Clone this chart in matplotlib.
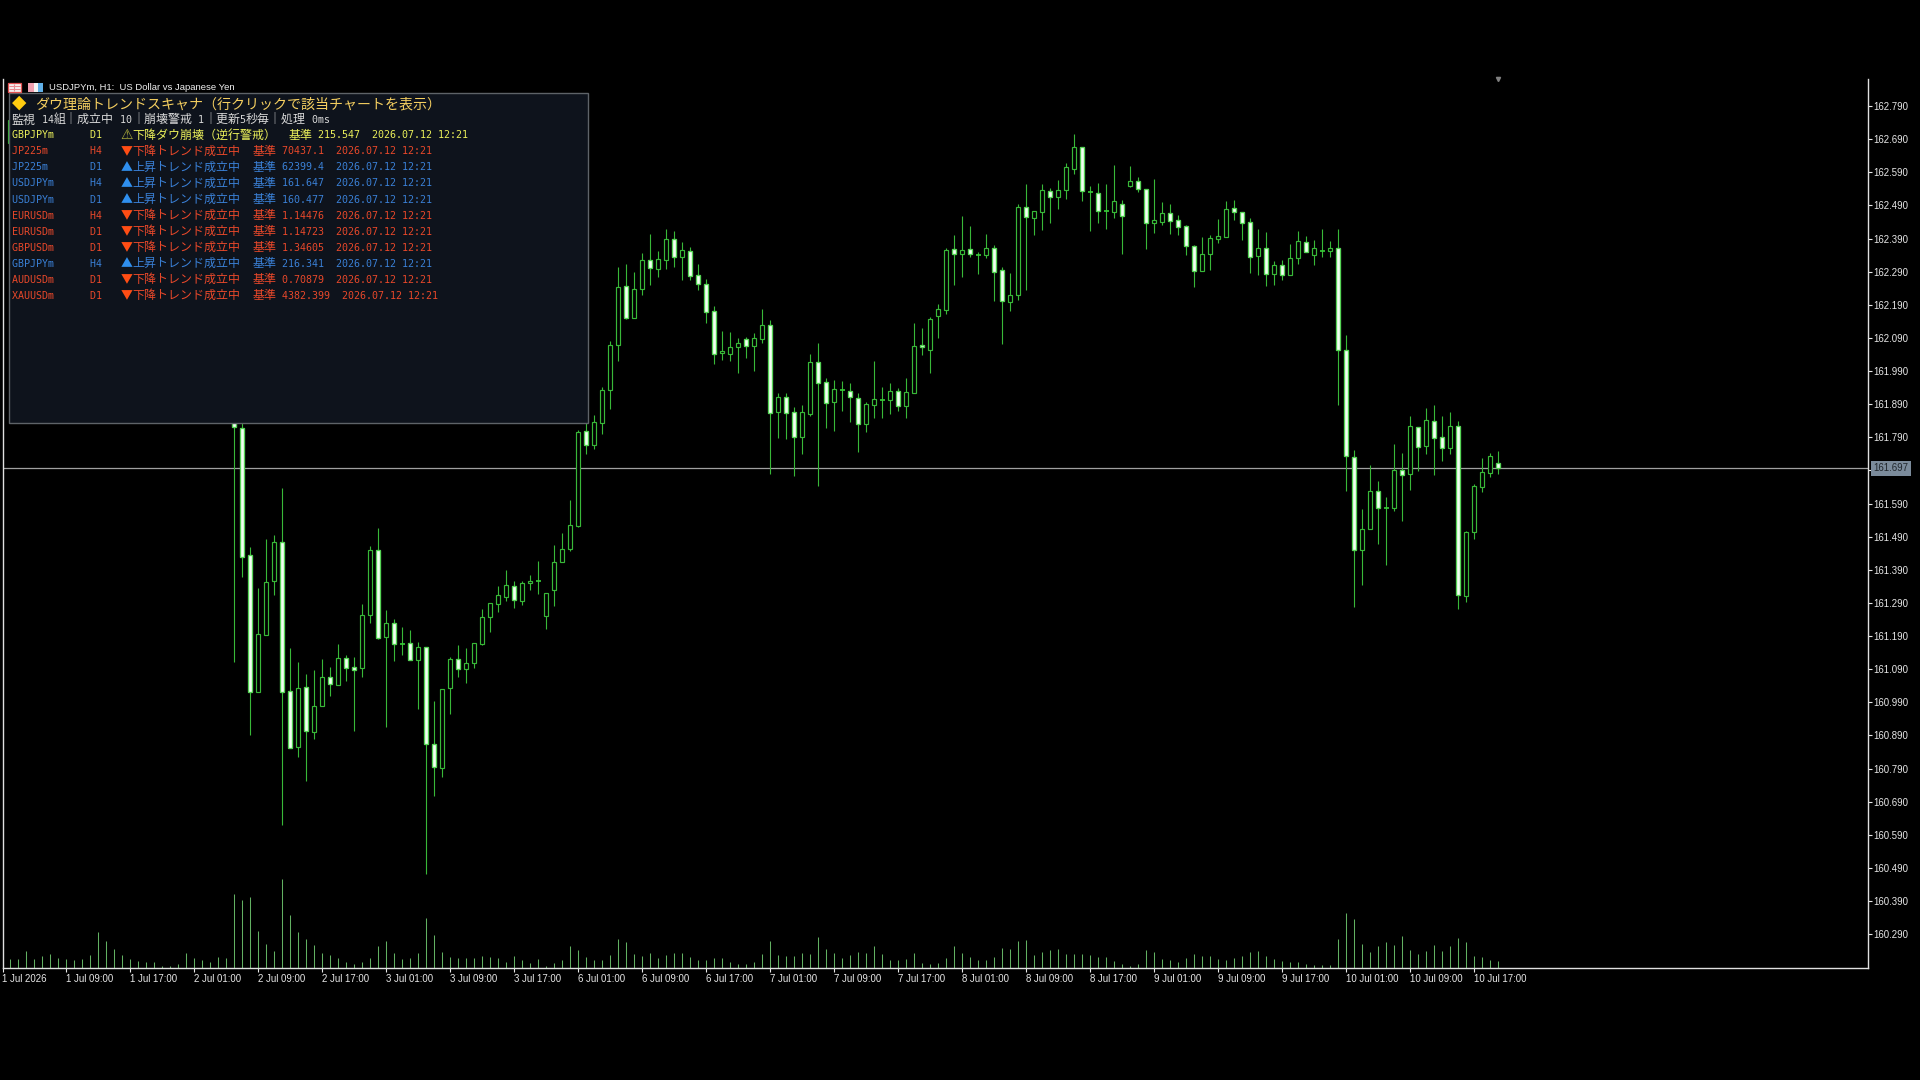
from itertools import groupby
import matplotlib
matplotlib.use('Agg')
import matplotlib.pyplot as plt
from matplotlib.patches import Rectangle
import numpy as np

# bars 1-27 sit behind the scanner panel, only bar 0 peeks out at the left
candle_index = [0] + list(range(28, 187))
opens = [162.678,
    161.843,161.817,161.434,161.020,161.192,161.355,161.473,161.024,160.854,161.036,
    160.899,160.980,161.066,161.041,161.123,161.096,161.095,161.253,161.449,161.186,
    161.229,161.167,161.169,161.119,161.157,160.863,160.793,161.032,161.120,161.089,
    161.108,161.167,161.246,161.288,161.309,161.340,161.297,161.350,161.357,161.249,
    161.328,161.412,161.454,161.523,161.808,161.768,161.834,161.934,162.070,162.248,
    162.151,162.239,162.324,162.299,162.326,162.390,162.335,162.351,162.279,162.254,
    162.170,162.043,162.042,162.063,162.086,162.066,162.088,162.128,161.867,161.913,
    161.865,161.792,161.861,162.016,161.956,161.897,161.933,161.929,161.910,161.831,
    161.888,161.904,161.903,161.929,161.885,161.925,162.070,162.054,162.157,162.175,
    162.358,162.343,162.358,162.340,162.339,162.361,162.294,162.197,162.218,162.484,
    162.453,162.471,162.533,162.514,162.535,162.600,162.666,162.530,162.527,162.474,
    162.471,162.493,162.550,162.563,162.539,162.438,162.441,162.466,162.445,162.427,
    162.367,162.293,162.342,162.390,162.396,162.481,162.469,162.439,162.336,162.361,
    162.284,162.309,162.281,162.330,162.379,162.339,162.351,162.352,162.360,162.053,
    161.730,161.451,161.514,161.627,161.575,161.575,161.690,161.680,161.820,161.765,
    161.838,161.790,161.759,161.823,161.312,161.505,161.641,161.683,161.712]
highs = [162.760,
    161.863,161.843,161.458,161.335,161.482,161.496,161.636,161.154,161.111,161.075,
    161.088,161.120,161.096,161.166,161.132,161.127,161.286,161.462,161.516,161.268,
    161.241,161.217,161.208,161.172,161.157,160.994,161.030,161.126,161.163,161.154,
    161.169,161.271,161.289,161.341,161.389,161.356,161.356,161.374,161.416,161.320,
    161.464,161.501,161.600,161.811,161.833,161.858,161.941,162.082,162.303,162.312,
    162.288,162.345,162.405,162.351,162.420,162.414,162.378,162.363,162.312,162.267,
    162.185,162.111,162.107,162.089,162.092,162.104,162.176,162.143,161.923,161.923,
    161.880,161.886,162.040,162.076,161.968,161.962,161.959,161.953,161.923,161.895,
    162.019,161.941,161.953,161.938,161.968,162.134,162.119,162.152,162.191,162.360,
    162.400,162.457,162.427,162.349,162.403,162.370,162.303,162.285,162.493,162.554,
    162.472,162.554,162.542,162.566,162.617,162.706,162.666,162.548,162.557,162.554,
    162.611,162.506,162.608,162.575,162.539,162.569,162.500,162.493,162.460,162.430,
    162.370,162.394,162.400,162.448,162.503,162.506,162.469,162.451,162.418,162.409,
    162.321,162.324,162.373,162.412,162.397,162.385,162.418,162.382,162.419,162.098,
    161.751,161.573,161.706,161.657,161.609,161.769,161.742,161.853,161.820,161.878,
    161.887,161.853,161.866,161.838,161.506,161.648,161.727,161.742,161.748]
lows = [162.660,
    161.113,161.367,160.890,161.020,161.192,161.314,160.620,160.851,160.824,160.751,
    160.880,160.980,161.010,161.041,161.055,160.902,161.065,161.228,161.181,160.914,
    161.115,161.133,161.119,160.971,160.473,160.706,160.765,160.956,161.065,161.049,
    161.092,161.164,161.201,161.263,161.297,161.276,161.285,161.330,161.318,161.212,
    161.282,161.412,161.448,161.520,161.741,161.756,161.801,161.876,162.021,162.148,
    162.151,162.220,162.250,162.275,162.299,162.305,162.266,162.266,162.235,162.136,
    162.012,162.024,162.021,161.985,162.030,161.991,162.075,161.680,161.789,161.786,
    161.674,161.740,161.855,161.644,161.819,161.810,161.870,161.837,161.746,161.807,
    161.849,161.849,161.861,161.870,161.849,161.925,162.039,161.985,162.091,162.163,
    162.251,162.275,162.333,162.284,162.330,162.200,162.073,162.172,162.203,162.236,
    162.401,162.417,162.438,162.480,162.508,162.586,162.502,162.414,162.438,162.420,
    162.453,162.342,162.544,162.529,162.357,162.408,162.432,162.405,162.402,162.339,
    162.245,162.293,162.296,162.375,162.396,162.447,162.387,162.287,162.281,162.248,
    162.251,162.266,162.281,162.314,162.348,162.311,162.333,162.333,161.886,161.629,
    161.279,161.345,161.514,161.469,161.403,161.566,161.536,161.632,161.689,161.741,
    161.677,161.717,161.741,161.273,161.294,161.484,161.626,161.671,161.680]
closes = [162.748,
    161.820,161.430,161.020,161.196,161.353,161.473,161.020,160.851,161.033,160.902,
    160.978,161.066,161.044,161.123,161.095,161.086,161.253,161.449,161.185,161.229,
    161.165,161.167,161.119,161.157,160.863,160.796,161.030,161.120,161.089,161.108,
    161.169,161.247,161.289,161.313,161.344,161.300,161.350,161.356,161.357,161.320,
    161.413,161.452,161.525,161.805,161.768,161.836,161.932,162.070,162.245,162.151,
    162.239,162.324,162.302,162.327,162.390,162.333,162.354,162.278,162.254,162.169,
    162.042,162.049,162.064,162.076,162.067,162.089,162.128,161.864,161.913,161.864,
    161.792,161.865,162.016,161.955,161.894,161.935,161.933,161.912,161.831,161.889,
    161.907,161.904,161.929,161.885,161.926,162.067,162.061,162.146,162.176,162.354,
    162.343,162.355,162.343,162.340,162.361,162.290,162.200,162.219,162.484,162.456,
    162.472,162.536,162.514,162.536,162.605,162.666,162.533,162.530,162.474,162.474,
    162.503,162.459,162.563,162.539,162.438,162.445,162.466,162.444,162.426,162.366,
    162.293,162.343,162.391,162.397,162.478,162.469,162.438,162.333,162.361,162.284,
    162.309,162.281,162.331,162.382,162.348,162.361,162.351,162.361,162.052,161.732,
    161.451,161.512,161.627,161.578,161.575,161.690,161.677,161.823,161.762,161.841,
    161.789,161.759,161.823,161.315,161.503,161.642,161.684,161.733,161.697]
volumes = [28,28,52,28,37,43,31,28,25,28,40,109,82,58,40,28,22,19,19,6,
    6,13,46,31,25,19,34,31,223,205,214,112,73,52,268,160,109,88,70,46,
    40,31,19,13,19,31,67,82,46,28,31,46,151,100,49,34,31,31,31,37,
    34,31,19,37,25,16,28,7,16,25,67,55,34,25,25,40,88,79,43,37,
    46,31,40,46,46,34,25,25,31,31,19,13,13,19,43,82,40,37,37,46,
    43,94,58,46,31,40,49,46,67,43,25,25,28,46,16,13,16,31,67,46,
    34,25,25,34,61,58,82,85,40,49,55,58,43,43,43,40,34,34,22,13,
    7,13,55,49,28,25,19,31,43,37,37,28,25,31,37,49,52,37,28,22,
    19,19,13,10,10,10,88,166,148,73,49,67,79,70,97,55,43,52,70,52,
    67,91,79,37,34,25,22]
volume_index = list(range(len(volumes)))

price_ticks = [160.29 + 0.1 * n for n in range(26)]
# the 161.690 label is covered by the current price tag
price_labels = ['' if n == 14 else f'{p:.3f}' for n, p in enumerate(price_ticks)]
date_ticks = list(range(-1, 184, 8))
date_labels = ['1 Jul 2026', '1 Jul 09:00', '1 Jul 17:00', '2 Jul 01:00', '2 Jul 09:00', '2 Jul 17:00',
    '3 Jul 01:00', '3 Jul 09:00', '3 Jul 17:00', '6 Jul 01:00', '6 Jul 09:00', '6 Jul 17:00',
    '7 Jul 01:00', '7 Jul 09:00', '7 Jul 17:00', '8 Jul 01:00', '8 Jul 09:00', '8 Jul 17:00',
    '9 Jul 01:00', '9 Jul 09:00', '9 Jul 17:00', '10 Jul 01:00', '10 Jul 09:00', '10 Jul 17:00']

scan_symbols = ['JP225m', 'JP225m', 'USDJPYm', 'USDJPYm', 'EURUSDm', 'EURUSDm', 'GBPUSDm', 'GBPJPYm', 'AUDUSDm', 'XAUUSDm']
scan_frames = ['H4', 'D1', 'H4', 'D1', 'H4', 'D1', 'D1', 'H4', 'D1', 'D1']
scan_dirs = ['down', 'up', 'up', 'up', 'down', 'down', 'down', 'up', 'down', 'down']
scan_prices = ['70437.1', '62399.4', '161.647', '160.477', '1.14476', '1.14723', '1.34605', '216.341', '0.70879', '4382.399']
scan_time = '2026.07.12 12:21'

plt.rcParams['font.family'] = ['Liberation Sans', 'DejaVu Sans']
fig = plt.figure(figsize=(19.2, 10.8), dpi=100, facecolor='black')
rect = [2.5 / 1920, (1080 - 968.3) / 1080, (1867.7 - 2.5) / 1920, (968.3 - 79) / 1080]
xlim = (-0.9625, 232.19)

# volume underneath, own scale
ax_vol = fig.add_axes(rect, facecolor='black')
ax_vol.vlines(volume_index, 0, volumes, color='#62b062', lw=0.75)
ax_vol.set_xlim(xlim)
ax_vol.set_ylim(0, 2668)
ax_vol.axis('off')

ax = fig.add_axes(rect)
ax.patch.set_visible(False)
last_close = closes[-1]
ax.axhline(last_close, color='#a0a0a0', lw=0.9, zorder=1)

o = np.array(opens)
c = np.array(closes)
idx = np.array(candle_index)
ax.vlines(idx, lows, highs, color='#38b838', lw=0.8, zorder=2)
down = c < o
up = c > o
flat = c == o
ax.bar(idx[up], (c - o)[up], bottom=o[up], width=0.5, facecolor='black', edgecolor='#38b838', lw=0.85, zorder=3)
ax.bar(idx[down], (o - c)[down], bottom=c[down], width=0.5, facecolor='#f4fff4', edgecolor='#55d455', lw=0.95, zorder=3)
ax.hlines(c[flat], idx[flat] - 0.3, idx[flat] + 0.3, color='#38d038', lw=1.2, zorder=3)

ax.set_xlim(xlim)
ax.set_ylim(160.187, 162.8715)
ax.yaxis.tick_right()
ax.set_yticks(price_ticks)
ax.set_yticklabels(price_labels)
ax.set_xticks(date_ticks)
ax.set_xticklabels(date_labels, ha='left')
ax.tick_params(axis='both', colors='#e8e8e8', length=3, width=0.8, labelsize=6.9, pad=1)
for side in ['left', 'bottom', 'right']:
    ax.spines[side].set_color('#e0e0e0')
    ax.spines[side].set_linewidth(1.0)
ax.spines['top'].set_visible(False)

ax.text(1.0032, last_close, f'{last_close:.3f}', transform=ax.get_yaxis_transform(), color='#20262c',
        fontsize=6.9, va='center', ha='left', zorder=6, clip_on=False,
        bbox=dict(facecolor='#7b8b9b', edgecolor='none', pad=1.8))
ax.plot([candle_index[-1]], [162.8715], marker='v', ms=3, color='#808080', clip_on=False, zorder=4)

# overlay in screen pixels for the scanner panel and chart caption
over = fig.add_axes([0, 0, 1, 1])
over.set_xlim(0, 1920)
over.set_ylim(1080, 0)
over.axis('off')


def put_mono(x, y, s, color, size=12.0):
    # the panel font is a fixed grid: ascii half a cell, everything else a full cell
    for is_ascii, run in groupby(s, key=lambda ch: ord(ch) < 128):
        run = ''.join(run)
        if is_ascii:
            over.text(x, y, run, color=color, family='DejaVu Sans Mono', fontsize=size * 0.6,
                      va='center', ha='left')
            x += len(run) * size / 2
        else:
            over.text(x, y, run, color=color, family='Noto Sans CJK JP', fontsize=size * 0.72,
                      va='center', ha='left')
            x += len(run) * size


RED, BLUE, YELLOW = '#e8482a', '#3a80d6', '#ebf05a'
over.add_patch(Rectangle((8.8, 93), 579.4, 330, facecolor='#0e131c', edgecolor='#5e6368', lw=1.0))
over.text(19, 102.5, '◆', color='#ffcc10', family='DejaVu Sans', fontsize=13.5, ha='center', va='center')
put_mono(34.8, 104.3, 'ダウ理論トレンドスキャナ（行クリックで該当チャートを表示）', '#f5cf60', size=14.0)
put_mono(11.8, 120.3, '監視 14組｜成立中 10｜崩壊警戒 1｜更新5秒毎｜処理 0ms', '#d8d8d8')

row_y = 135.4
put_mono(11.8, row_y, 'GBPJPYm      D1', YELLOW)
over.text(126.5, row_y, '⚠', color='#b4b43c', family='DejaVu Sans', fontsize=10, ha='center', va='center')
put_mono(132.4, row_y, '下降ダウ崩壊（逆行警戒）  基準 215.547  ' + scan_time, YELLOW)

for n, (sym, tf, way, price) in enumerate(zip(scan_symbols, scan_frames, scan_dirs, scan_prices)):
    y = row_y + 16.03 * (n + 1)
    color = RED if way == 'down' else BLUE
    put_mono(11.8, y, sym.ljust(13) + tf, color)
    mark, mark_color = ('▼', '#ff4d14') if way == 'down' else ('▲', '#2f8fee')
    over.text(126.5, y, mark, color=mark_color, family='Noto Sans CJK JP', fontsize=8.6, ha='center', va='center')
    status = '下降トレンド成立中' if way == 'down' else '上昇トレンド成立中'
    put_mono(132.4, y, f'{status}  基準 {price}  {scan_time}', color)

# chart window caption with its two small icons
over.add_patch(Rectangle((8, 83), 13, 9, facecolor='#f6f2f2', edgecolor='#e05050', lw=0.9))
over.hlines([85.8, 88.6], 9, 20, color='#e88a90', lw=0.8)
over.vlines(14, 84, 91, color='#e88a90', lw=0.8)
over.add_patch(Rectangle((28, 83), 6, 9, facecolor='#f0a0b0', edgecolor='none'))
over.add_patch(Rectangle((34, 83), 4, 9, facecolor='#f4f4f4', edgecolor='none'))
over.add_patch(Rectangle((38, 83), 5, 9, facecolor='#60b0e8', edgecolor='none'))
over.text(48.6, 88, 'USDJPYm, H1:  US Dollar vs Japanese Yen', color='#f0f0f0', fontsize=6.8, va='center', ha='left')

fig.savefig('out.png', dpi=100, facecolor='black')
